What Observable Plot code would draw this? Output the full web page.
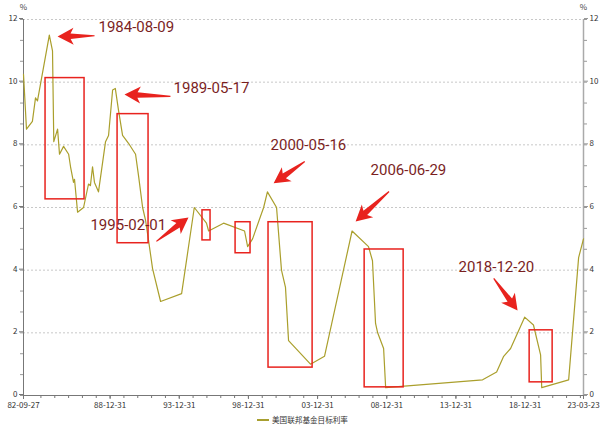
<!DOCTYPE html>
<html>
<head>
<meta charset="utf-8">
<script src="https://cdn.jsdelivr.net/npm/d3@7"></script>
<script src="https://cdn.jsdelivr.net/npm/@observablehq/plot@0.6"></script>
<style>
  html, body { margin: 0; padding: 0; background: #fff; }
  #chart { width: 600px; height: 427px; overflow: hidden; }
  .legend { height: 15px; display: flex; align-items: center; justify-content: center; padding-left: 5px;
            font-family: "Noto Sans CJK SC", sans-serif; font-size: 7.6px; color: #333; }
  .legend .sw { width: 12px; height: 2px; background: #a89f30; margin-right: 3px; }
</style>
</head>
<body>
<div id="chart"></div>
<script>
// ---- data ----
const dates = ["1982-09-27","1982-12-15","1983-05-20","1983-08-10","1983-10-01","1984-08-09","1984-11-01","1984-12-05",
  "1985-03-15","1985-05-05","1985-08-20","1986-01-01","1986-02-20","1986-05-10","1986-06-05","1986-08-25","1987-01-30",
  "1987-06-10","1987-07-30","1987-09-24","1987-11-14","1988-02-28","1988-09-01","1988-11-20","1989-03-07","1989-05-17",
  "1989-08-10","1989-11-25","1990-05-01","1990-11-03","1991-01-22","1991-05-08","1991-07-24","1991-10-12","1992-01-26",
  "1992-08-25","1994-03-03","1995-02-01","1995-12-19","1996-02-14","1997-03-15","1998-09-20","1998-12-10","1999-04-20",
  "2000-02-06","2000-05-16","2001-01-12","2001-05-22","2001-09-05","2001-11-25","2003-06-27","2004-07-01","2006-06-29",
  "2007-09-06","2007-12-20","2008-03-10","2008-05-05","2008-10-09","2008-12-02","2015-12-06","2016-12-10","2017-06-14",
  "2017-12-14","2018-12-20","2019-08-10","2020-02-14","2020-03-15","2022-02-24","2022-11-14","2023-03-23"];
const rates = [10.25,8.5,8.75,9.5,9.4,11.5,11.0,8.1,
  8.5,7.7,7.95,7.7,7.3,6.8,6.9,5.85,6.0,
  6.75,6.7,7.3,6.8,6.5,8.1,8.3,9.75,9.8,
  9.1,8.3,8.05,7.7,7.0,6.0,5.6,4.95,4.05,
  3.0,3.25,6.0,5.5,5.25,5.5,5.25,4.75,5.0,
  6.0,6.5,6.0,4.0,3.45,1.75,1.0,1.25,5.25,
  4.75,4.3,2.3,2.0,1.5,0.25,0.5,0.75,1.25,
  1.5,2.5,2.25,1.3,0.25,0.5,4.4,5.0];

const xTickLabels = ["1982-09-27","1988-12-31","1993-12-31","1998-12-31","2003-12-31","2008-12-31","2013-12-31","2018-12-31","2023-03-23"];
const yTicks = [0, 2, 4, 6, 8, 10, 12];
const seriesName = "美国联邦基金目标利率";

// annotation boxes
const boxStart = ["1984-05-01","1989-07-16","1995-09-05","1998-01-26","2000-06-14","2007-05-27","2019-05-01"];
const boxEnd   = ["1987-02-25","1991-10-12","1996-04-05","1999-02-25","2003-08-22","2010-03-22","2020-12-28"];
const boxLow   = [6.26, 4.86, 4.95, 4.54, 0.89, 0.26, 0.42];
const boxHigh  = [10.13, 8.98, 5.91, 5.53, 5.53, 4.66, 2.08];

// annotation arrows (tip position, direction in degrees, length)
const arrowTipDate = ["1985-03-15","1990-01-15","1994-09-01","2000-10-27","2006-10-01","2018-06-16"];
const arrowTipValue = [11.46, 9.61, 5.68, 6.77, 5.55, 2.71];
const arrowAngle = [-91, -87.5, 53.4, -125, -132, 143.4];
const arrowLength = [37, 46, 40, 38, 45, 40];

// annotation labels
const labelText = ["1984-08-09","1989-05-17","1995-02-01","2000-05-16","2006-06-29","2018-12-20"];
const labelDate = ["1988-02-28","1993-08-03","1987-07-30","2000-08-07","2007-10-30","2014-03-10"];
const labelValue = [11.75, 9.8, 5.43, 7.98, 7.18, 4.09];

// ---- build ----
const P = s => new Date(s + "T00:00:00Z");
const series = dates.map((d, i) => ({date: P(d), value: rates[i]}));
const boxes = boxStart.map((d, i) => ({x1: P(d), x2: P(boxEnd[i]), y1: boxLow[i], y2: boxHigh[i]}));
const arrows = arrowTipDate.map((d, i) => ({date: P(d), value: arrowTipValue[i], angle: arrowAngle[i], len: arrowLength[i]}));
const labels = labelText.map((t, i) => ({text: t, date: P(labelDate[i]), value: labelValue[i]}));

const x0 = P(dates[0]), x1 = P(dates[dates.length - 1]);
const majorX = xTickLabels.map(P);
const minorX = d3.range(1983, 2023).map(y => P(`${y}-12-31`));
const minorY = d3.range(0, 12.001, 2/3);

const arrowShape = {
  draw(context, l) {
    const hl = 14, hw = 8.5;
    context.moveTo(-0.6, 0);
    context.lineTo(-2.8, -(l - hl + 1));
    context.lineTo(-hw, -(l - hl - 2));
    context.lineTo(0, -l);
    context.lineTo(hw, -(l - hl - 2));
    context.lineTo(2.8, -(l - hl + 1));
    context.lineTo(0.6, 0);
    context.closePath();
  }
};

const tickFont = "Noto Sans CJK SC, sans-serif";
const chart = Plot.plot({
  width: 600,
  height: 412,
  marginLeft: 23,
  marginRight: 17,
  marginTop: 19,
  marginBottom: 17,
  style: {fontFamily: tickFont, background: "#fff", color: "#333"},
  x: {type: "utc", domain: [x0, x1]},
  y: {domain: [0, 12]},
  length: {type: "identity"},
  marks: [
    Plot.gridY(yTicks.filter(d => d > 0), {stroke: "#c8c8c8", strokeOpacity: 1, strokeDasharray: "2,2"}),
    Plot.ruleY([0], {stroke: "#777"}),
    Plot.ruleX([x0], {stroke: "#777"}),
    Plot.ruleX([x1], {stroke: "#aaa", strokeWidth: 1.5}),
    Plot.axisY({anchor: "left", ticks: yTicks, tickSize: 4, tickPadding: 2, fontSize: 8, label: null, stroke: "#777", dy: -1}),
    Plot.axisY({anchor: "left", ticks: minorY, tickSize: 3, tickFormat: () => "", label: null, stroke: "#999"}),
    Plot.axisY({anchor: "right", ticks: yTicks, tickSize: 4, tickPadding: 2, fontSize: 8, label: null, stroke: "#999", dy: -1}),
    Plot.axisY({anchor: "right", ticks: minorY, tickSize: 3, tickFormat: () => "", label: null, stroke: "#999"}),
    Plot.axisX({ticks: majorX, tickFormat: d3.utcFormat("%y-%m-%d"), tickSize: 4, tickPadding: 3, fontSize: 8, label: null, stroke: "#777"}),
    Plot.axisX({ticks: minorX, tickFormat: () => "", tickSize: 3, label: null, stroke: "#777"}),
    Plot.text(["%"], {frameAnchor: "top-left", dy: -12, textAnchor: "middle", lineAnchor: "middle", fontSize: 8, fill: "#444"}),
    Plot.text(["%"], {frameAnchor: "top-right", dy: -12, textAnchor: "middle", lineAnchor: "middle", fontSize: 8, fill: "#444"}),
    Plot.line(series, {x: "date", y: "value", stroke: "#aa9f2c", strokeWidth: 1.2}),
    Plot.rect(boxes, {x1: "x1", x2: "x2", y1: "y1", y2: "y2", fill: "none", stroke: "#e8231e", strokeWidth: 1.5}),
    Plot.vector(arrows, {x: "date", y: "value", rotate: "angle", length: "len", anchor: "end", shape: arrowShape,
      fill: "#e8231e", stroke: "none"}),
    Plot.text(labels, {x: "date", y: "value", text: "text", textAnchor: "start", fill: "#7b1f1f", fontSize: 15,
      fontFamily: "Roboto, sans-serif"})
  ]
});
document.getElementById("chart").appendChild(chart);
const legend = document.createElement("div");
legend.className = "legend";
legend.innerHTML = `<span class="sw"></span><span>${seriesName}</span>`;
document.getElementById("chart").appendChild(legend);
</script>
</body>
</html>
